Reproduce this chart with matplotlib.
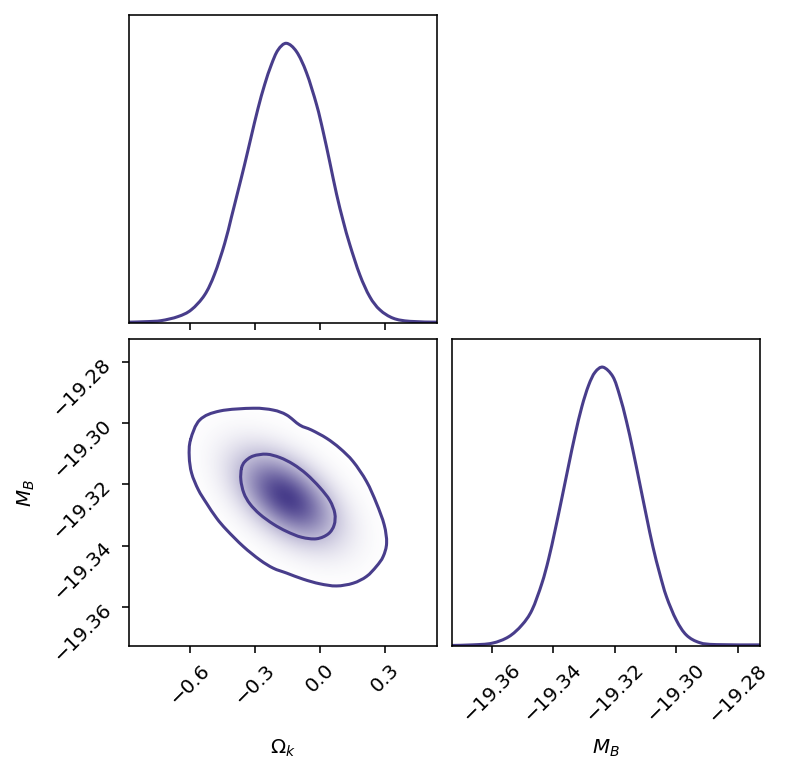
import numpy as np
import matplotlib
matplotlib.use("Agg")
import matplotlib.pyplot as plt
from matplotlib.colors import LinearSegmentedColormap
from matplotlib.patches import PathPatch
from matplotlib.path import Path

# ---------------- data ----------------
omk_grid = [-0.884, -0.80, -0.735, -0.657, -0.596, -0.534, -0.488, -0.441, -0.410,
            -0.380, -0.349, -0.318, -0.287, -0.256, -0.225, -0.194, -0.155, -0.108,
            -0.062, -0.015, 0.015, 0.046, 0.077, 0.108, 0.139, 0.185, 0.231, 0.278,
            0.340, 0.417, 0.541]
omk_pdf = [0.004, 0.006, 0.0095, 0.024, 0.048, 0.101, 0.175, 0.285, 0.378, 0.470,
           0.566, 0.667, 0.766, 0.852, 0.923, 0.976, 1.0, 0.970, 0.895, 0.780, 0.685,
           0.575, 0.462, 0.365, 0.280, 0.173, 0.095, 0.048, 0.018, 0.007, 0.004]

mb_grid = [-19.3729, -19.3664, -19.3599, -19.3545, -19.3502, -19.3469, -19.3437,
           -19.3415, -19.3394, -19.3372, -19.3350, -19.3329, -19.3307, -19.3285,
           -19.3264, -19.3238, -19.3206, -19.3184, -19.3162, -19.3141, -19.3119,
           -19.3097, -19.3076, -19.3054, -19.3032, -19.3000, -19.2967, -19.2924,
           -19.2870, -19.2729]
mb_pdf = [0.002, 0.004, 0.010, 0.033, 0.075, 0.129, 0.224, 0.312, 0.415, 0.530,
          0.648, 0.757, 0.858, 0.935, 0.982, 1.0, 0.966, 0.898, 0.806, 0.702, 0.584,
          0.465, 0.356, 0.260, 0.177, 0.093, 0.039, 0.012, 0.005, 0.004]

# 2D credible contours (86.5% outer, 39.3% inner)
outer_omk = [-0.599, -0.556, -0.463, -0.309, -0.216, -0.154, -0.093, -0.039, 0.031,
             0.093, 0.154, 0.216, 0.262, 0.298, 0.309, 0.293, 0.262, 0.216, 0.154,
             0.077, 0.0, -0.077, -0.154, -0.216, -0.278, -0.355, -0.432, -0.478,
             -0.525, -0.563, -0.594, -0.605]
outer_mb = [-19.3055, -19.2990, -19.2961, -19.2952, -19.2958, -19.2974, -19.3007,
            -19.3023, -19.3050, -19.3083, -19.3126, -19.3191, -19.3262, -19.3333,
            -19.3392, -19.3436, -19.3468, -19.3501, -19.3523, -19.3532, -19.3525,
            -19.3510, -19.3490, -19.3474, -19.3447, -19.3403, -19.3349, -19.3311,
            -19.3262, -19.3218, -19.3164, -19.3110]
inner_omk = [-0.363, -0.347, -0.309, -0.247, -0.185, -0.123, -0.062, 0.0, 0.046,
             0.069, 0.066, 0.039, -0.015, -0.085, -0.154, -0.216, -0.278, -0.324,
             -0.352, -0.366]
inner_mb = [-19.3148, -19.3126, -19.3108, -19.3102, -19.3113, -19.3135, -19.3167,
            -19.3211, -19.3253, -19.3295, -19.3333, -19.3362, -19.3378, -19.3373,
            -19.3354, -19.3330, -19.3298, -19.3264, -19.3229, -19.3186]

# summary of the shaded 2D density
shade_omk_mean, shade_mb_mean = -0.154, -19.3243
shade_omk_sigma, shade_mb_sigma = 0.15, 0.0095
shade_corr = -0.5

omk_ticks = [-0.6, -0.3, 0.0, 0.3]
mb_ticks = [-19.36, -19.34, -19.32, -19.30, -19.28]
omk_lim = (-0.884, 0.541)
mb_lim = (-19.3728, -19.2727)

color = "#483D8B"
W, H = 789, 776
fig = plt.figure(figsize=(W / 100, H / 100), dpi=100)


def frac(l, t, r, b):
    return [l / W, 1 - b / H, (r - l) / W, (b - t) / H]


def smooth_path(xs, ys, closed=False):
    """Cubic Bezier path (Catmull-Rom style) passing through the given points."""
    P = np.column_stack([xs, ys]).astype(float)
    n = len(P)
    verts = [P[0]]
    codes = [Path.MOVETO]
    segs = n if closed else n - 1
    for i in range(segs):
        p0 = P[(i - 1) % n] if (closed or i > 0) else P[i]
        p1 = P[i % n]
        p2 = P[(i + 1) % n]
        p3 = P[(i + 2) % n] if (closed or i + 2 < n) else P[(i + 1) % n]
        c1 = p1 + (p2 - p0) / 6.0
        c2 = p2 - (p3 - p1) / 6.0
        verts += [c1, c2, p2]
        codes += [Path.CURVE4] * 3
    return Path(np.array(verts), codes)


def draw_curve(ax, xs, ys, closed=False, lw=2.2):
    patch = PathPatch(smooth_path(xs, ys, closed), facecolor="none", edgecolor=color,
                      lw=lw, capstyle="round", joinstyle="round")
    ax.add_patch(patch)
    return patch


ax_top = fig.add_axes(frac(129, 15.3, 436.7, 323.3))
ax_2d = fig.add_axes(frac(129, 339.3, 436.7, 646))
ax_mb = fig.add_axes(frac(452.3, 339.3, 760.3, 646))

FS = 14.3
for ax in (ax_top, ax_2d, ax_mb):
    for s in ax.spines.values():
        s.set_linewidth(1.15)
    ax.tick_params(direction="out", length=5, width=1.15, pad=5, labelsize=FS)

# top 1D
draw_curve(ax_top, omk_grid, omk_pdf)
ax_top.set_xlim(*omk_lim)
ax_top.set_ylim(0, 1.1 * max(omk_pdf))
ax_top.set_xticks(omk_ticks)
ax_top.set_xticklabels([])
ax_top.set_yticks([])

# bottom-right 1D
draw_curve(ax_mb, mb_grid, mb_pdf)
ax_mb.set_xlim(*mb_lim)
ax_mb.set_ylim(0, 1.1 * max(mb_pdf))
ax_mb.set_xticks(mb_ticks)
ax_mb.set_xticklabels([f"{t:.2f}".replace("-", "\u2212") for t in mb_ticks])
ax_mb.set_yticks([])
for l in ax_mb.get_xticklabels():
    l.set_rotation(45)
ax_mb.set_xlabel(r"$M_B$", fontsize=FS)
ax_mb.xaxis.set_label_coords(0.5, -0.3)

# 2D panel
gx = np.linspace(omk_lim[0], omk_lim[1], 90)
gy = np.linspace(mb_lim[0], mb_lim[1], 90)
X, Y = np.meshgrid(gx, gy)
zx = (X - shade_omk_mean) / shade_omk_sigma
zy = (Y - shade_mb_mean) / shade_mb_sigma
Q = (zx ** 2 - 2 * shade_corr * zx * zy + zy ** 2) / (1 - shade_corr ** 2)
D = np.exp(-0.5 * Q)
cmap = LinearSegmentedColormap.from_list("dens", ["#ffffff", color])
im = ax_2d.imshow(D, extent=[gx[0], gx[-1], gy[0], gy[-1]], origin="lower",
                  cmap=cmap, aspect="auto", interpolation="bilinear", vmin=0, vmax=1)
clip = PathPatch(smooth_path(outer_omk, outer_mb, closed=True),
                 transform=ax_2d.transData, facecolor="none", edgecolor="none")
ax_2d.add_patch(clip)
im.set_clip_path(clip)
draw_curve(ax_2d, outer_omk, outer_mb, closed=True)
draw_curve(ax_2d, inner_omk, inner_mb, closed=True)
ax_2d.set_xlim(*omk_lim)
ax_2d.set_ylim(*mb_lim)
ax_2d.set_xticks(omk_ticks)
ax_2d.set_xticklabels([f"{t:.1f}".replace("-", "\u2212") for t in omk_ticks])
ax_2d.set_yticks(mb_ticks)
ax_2d.set_yticklabels([f"{t:.2f}".replace("-", "\u2212") for t in mb_ticks])
for l in ax_2d.get_xticklabels():
    l.set_rotation(45)
for l in ax_2d.get_yticklabels():
    l.set_rotation(45)
ax_2d.set_xlabel(r"$\Omega_k$", fontsize=FS)
ax_2d.set_ylabel(r"$M_B$", fontsize=FS)
ax_2d.xaxis.set_label_coords(0.5, -0.3)
ax_2d.yaxis.set_label_coords(-0.3, 0.5)

fig.savefig("out.png", dpi=100)
